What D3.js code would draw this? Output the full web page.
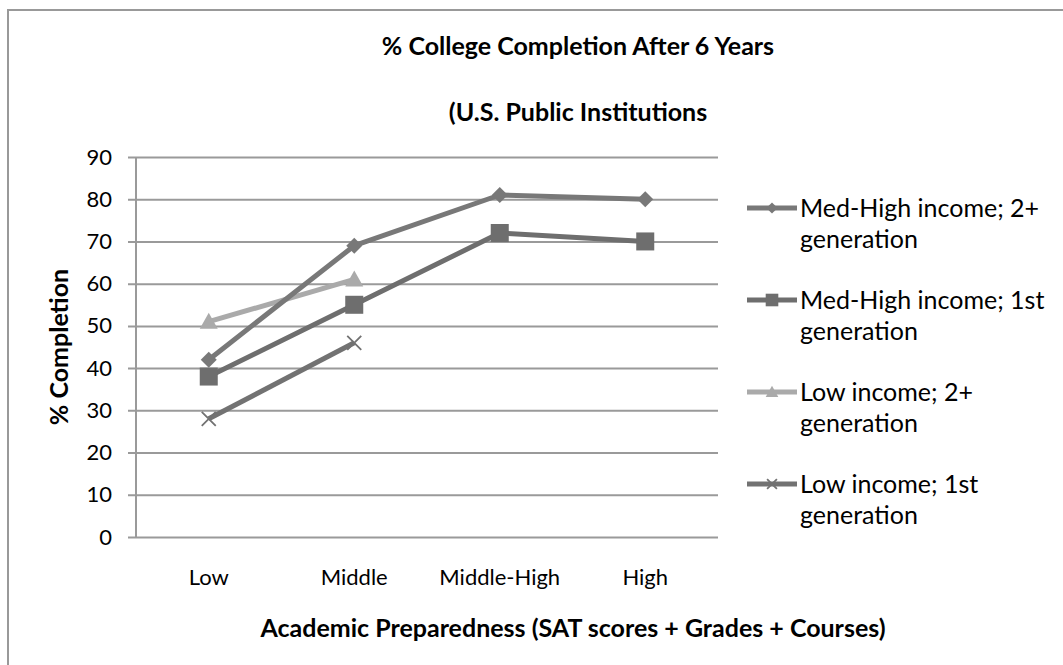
<!DOCTYPE html>
<html>
<head>
<meta charset="utf-8">
<script src="https://cdn.jsdelivr.net/npm/d3@7"></script>
<style>
  body { margin: 0; background: #fff; }
  text { font-family: Lato, "Open Sans", sans-serif; fill: #000; }
</style>
</head>
<body>
<div id="chart"></div>
<script>
// data
var categories = ["Low", "Middle", "Middle-High", "High"];
var medHigh2 = [42, 69, 81, 80];
var medHigh1 = [38, 55, 72, 70];
var low2 = [51, 61, null, null];
var low1 = [28, 46, null, null];
var yTicks = [0, 10, 20, 30, 40, 50, 60, 70, 80, 90];

var series = [
  {name: ["Med-High income; 2+", "generation"], values: medHigh2, color: "#787878", marker: "diamond"},
  {name: ["Med-High income; 1st", "generation"], values: medHigh1, color: "#6e6e6e", marker: "square"},
  {name: ["Low income; 2+", "generation"], values: low2, color: "#aaaaaa", marker: "triangle"},
  {name: ["Low income; 1st", "generation"], values: low1, color: "#727272", marker: "cross"}
];

var W = 1063, H = 665;
var plot = {left: 136, right: 718, top: 157, bottom: 537};

var svg = d3.select("#chart").append("svg")
    .attr("width", W)
    .attr("height", H);

// outer frame (only top/left visible in the crop)
svg.append("rect")
    .attr("x", 8).attr("y", 10)
    .attr("width", W).attr("height", H)
    .attr("fill", "none")
    .attr("stroke", "#999")
    .attr("stroke-width", 2);

var xScale = d3.scaleBand()
    .domain(categories)
    .range([plot.left, plot.right]);

var yScale = d3.scaleLinear()
    .domain([0, 90])
    .range([plot.bottom, plot.top]);

// gridlines + y axis
var yAxis = svg.append("g")
    .attr("transform", "translate(" + plot.left + ",0)")
    .call(d3.axisLeft(yScale).tickValues(yTicks)
        .tickSize(-(plot.right - plot.left)).tickPadding(24));
yAxis.select(".domain").remove();
yAxis.selectAll(".tick line")
    .attr("x1", -8)
    .attr("stroke", "#9a9a9a")
    .attr("stroke-width", 2);
yAxis.selectAll(".tick text")
    .attr("font-size", "22px")
    .attr("font-family", "Lato, sans-serif")
    .attr("fill", "#000");

svg.append("line")
    .attr("x1", plot.left).attr("x2", plot.left)
    .attr("y1", plot.top).attr("y2", plot.bottom)
    .attr("stroke", "#9a9a9a")
    .attr("stroke-width", 2);

// x labels
svg.append("g")
    .selectAll("text")
    .data(categories)
    .enter()
    .append("text")
    .attr("x", function(d) { return xScale(d) + xScale.bandwidth() / 2; })
    .attr("y", 585)
    .attr("text-anchor", "middle")
    .attr("font-size", "22px")
    .text(function(d) { return d; });

// lines
var line = d3.line()
    .defined(function(d) { return d.v != null; })
    .x(function(d) { return xScale(d.c) + xScale.bandwidth() / 2; })
    .y(function(d) { return yScale(d.v); });

function pts(s) {
  return s.values.map(function(v, i) { return {c: categories[i], v: v}; })
    .filter(function(d) { return d.v != null; });
}

function drawMarker(g, type, color, x, y, k) {
  if (type === "diamond") {
    g.append("path")
        .attr("d", "M" + x + "," + (y - 8 * k) + "L" + (x + 8 * k) + "," + y + "L" + x + "," + (y + 8 * k) + "L" + (x - 8 * k) + "," + y + "Z")
        .attr("fill", color);
  } else if (type === "square") {
    g.append("rect")
        .attr("x", x - 9 * k).attr("y", y - 9 * k)
        .attr("width", 18 * k).attr("height", 18 * k)
        .attr("fill", color);
  } else if (type === "triangle") {
    g.append("path")
        .attr("d", "M" + x + "," + (y - 9 * k) + "L" + (x + 9 * k) + "," + (y + 7 * k) + "L" + (x - 9 * k) + "," + (y + 7 * k) + "Z")
        .attr("fill", color);
  } else {
    var r = 7 * k;
    g.append("path")
        .attr("d", "M" + (x - r) + "," + (y - r) + "L" + (x + r) + "," + (y + r) + "M" + (x + r) + "," + (y - r) + "L" + (x - r) + "," + (y + r))
        .attr("stroke", color)
        .attr("stroke-width", 1.8)
        .attr("fill", "none");
  }
}

// draw series in reverse so first series sits on top
series.slice().reverse().forEach(function(s) {
  var g = svg.append("g");
  g.append("path")
      .datum(pts(s))
      .attr("d", line)
      .attr("fill", "none")
      .attr("stroke", s.color)
      .attr("stroke-width", 5)
      .attr("stroke-linejoin", "round");
  pts(s).forEach(function(d) {
    drawMarker(g, s.marker, s.color, xScale(d.c) + xScale.bandwidth() / 2, yScale(d.v), 1);
  });
});

// legend
var legend = svg.append("g");
series.forEach(function(s, i) {
  var y = 208 + i * 92;
  legend.append("line")
      .attr("x1", 747).attr("x2", 797)
      .attr("y1", y).attr("y2", y)
      .attr("stroke", s.color)
      .attr("stroke-width", 5);
  drawMarker(legend, s.marker, s.color, 772, y, 0.7);
  legend.append("text")
      .attr("x", 800)
      .attr("y", y + 9)
      .attr("font-size", "25px")
      .text(s.name[0]);
  legend.append("text")
      .attr("x", 800)
      .attr("y", y + 40)
      .attr("font-size", "25px")
      .text(s.name[1]);
});

// titles
svg.append("text")
    .attr("x", 578).attr("y", 55)
    .attr("text-anchor", "middle")
    .attr("font-size", "25px")
    .attr("font-weight", "bold")
    .text("% College Completion After 6 Years");

svg.append("text")
    .attr("x", 578).attr("y", 121)
    .attr("text-anchor", "middle")
    .attr("font-size", "25px")
    .attr("font-weight", "bold")
    .text("(U.S. Public Institutions");

svg.append("text")
    .attr("transform", "translate(68," + ((plot.top + plot.bottom) / 2) + ") rotate(-90)")
    .attr("text-anchor", "middle")
    .attr("font-size", "25px")
    .attr("font-weight", "bold")
    .text("% Completion");

svg.append("text")
    .attr("x", 573).attr("y", 637)
    .attr("text-anchor", "middle")
    .attr("font-size", "25px")
    .attr("font-weight", "bold")
    .text("Academic Preparedness (SAT scores + Grades + Courses)");
</script>
</body>
</html>
